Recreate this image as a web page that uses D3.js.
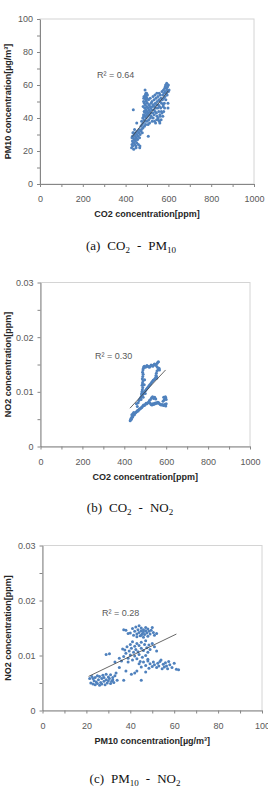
<!DOCTYPE html>
<html><head><meta charset="utf-8">
<script src="https://cdn.jsdelivr.net/npm/d3@7"></script>
<style>body{margin:0;background:#fff}svg{display:block}</style>
</head><body>
<script>
// ---------- DATA ----------
// (a) CO2 [ppm] vs PM10 [ug/m3]
const pointsA = [
[428,22],[430,24],[432,26],[433,23],[435,25],[436,28],[438,21],[440,27],[441,30],[443,24],[444,29],[446,26],[447,31],[449,22],[450,28],[452,25],[453,30],[455,32],[456,27],[458,29],[460,24],[461,31],[463,33],[465,28],[466,22],[468,30],[470,32],[432,29],[437,31],[442,33],[430,28],[434,31],[445,27],[448,23],[439,25],
[472,35],[474,33],[475,38],[477,36],[478,31],[480,40],[481,34],[483,37],[484,42],[486,39],[487,44],[488,35],[489,46],[490,41],[491,38],[492,48],[493,43],[494,36],[495,45],[496,40],[497,50],[498,42],[499,47],[500,38],[501,44],[502,49],[503,41],[504,46],[505,36],[506,43],[507,51],[508,39],[509,45],[510,48],[511,42],[512,37],[513,47],[514,44],[515,52],[516,40],[517,46],[518,43],[519,49],[520,41],
[522,45],[523,50],[524,38],[525,47],[527,43],[528,53],[529,40],[530,48],[532,45],[533,51],[534,42],[535,47],[537,54],[538,44],[539,49],[540,37],[541,46],[542,52],[544,43],[545,48],[546,55],[547,41],[548,50],[550,46],[551,53],[552,39],[553,48],[555,44],[556,51],[557,55],[558,47],[560,42],[561,50],[562,54],[564,46],[565,52],[567,44],[568,49],[570,56],
[572,51],[574,54],[575,47],[577,57],[578,52],[580,55],[581,49],[583,58],[584,53],[586,56],[587,60],[588,51],[590,55],[591,58],[592,61],[594,54],[595,57],[596,59],[598,46],[598,49],[600,56],[600,60],[585,59],[603,57],
[436,45],[491,57],[506,29],[452,37],[467,23],[495,55],[485,52],
[482,47],[484,50],[486,53],[488,49],[490,52],[492,54],[494,51],[496,53],[498,55],[500,52],[502,54],[488,44],[492,46],[485,41],[552,40],[558,38],[562,41],[566,39],[570,43],[574,41],[578,44],[582,46],[576,48],[560,37],[545,39],[535,38]
];
const trendA = [[431,28.7],[600,56.5]];

// (b) CO2 [ppm] vs NO2 [ppm]
const pointsB = [
[428,0.0047],[430,0.0049],[432,0.0051],[434,0.0050],[436,0.0053],[438,0.0055],[440,0.0054],[443,0.0057],[446,0.0059],[448,0.0058],[451,0.0061],[454,0.0062],[457,0.0063],[460,0.0064],[463,0.0066],[466,0.0065],[469,0.0067],[472,0.0068],[475,0.0069],[478,0.0070],[481,0.0071],[484,0.0072],[436,0.0058],[441,0.0060],[445,0.0062],
[488,0.0074],[492,0.0076],[496,0.0075],[500,0.0077],[504,0.0079],[508,0.0078],[512,0.0080],[516,0.0081],[520,0.0080],[524,0.0079],[528,0.0077],[532,0.0076],[536,0.0078],[540,0.0077],[544,0.0079],[548,0.0078],[552,0.0080],[556,0.0079],[560,0.0081],[564,0.0080],[568,0.0078],[572,0.0077],[576,0.0076],[580,0.0077],[584,0.0076],[588,0.0075],[592,0.0077],[596,0.0076],[600,0.0078],[598,0.0074],
[590,0.0085],[594,0.0088],[596,0.0091],[598,0.0089],[600,0.0086],[588,0.0090],[585,0.0083],
[525,0.0086],[530,0.0089],[535,0.0091],[540,0.0088],[545,0.0090],[550,0.0087],[520,0.0084],
[466,0.0080],[470,0.0084],[474,0.0087],[478,0.0089],[482,0.0092],[486,0.0094],[490,0.0096],[494,0.0099],[498,0.0101],[502,0.0103],[506,0.0105],[510,0.0107],[514,0.0109],[518,0.0111],[522,0.0113],[526,0.0115],[530,0.0117],[534,0.0119],[538,0.0121],[542,0.0122],[546,0.0124],[550,0.0126],[554,0.0125],[480,0.0086],[490,0.0090],[500,0.0097],[458,0.0078],[462,0.0073],
[484,0.0100],[486,0.0104],[488,0.0108],[485,0.0112],[487,0.0116],[489,0.0120],[486,0.0124],[488,0.0128],[490,0.0132],[487,0.0136],[489,0.0140],[491,0.0143],[493,0.0146],[482,0.0096],[495,0.0113],[497,0.0122],
[496,0.0147],[500,0.0145],[504,0.0146],[508,0.0148],[512,0.0147],[516,0.0146],[520,0.0145],[524,0.0147],[528,0.0149],[532,0.0148],[536,0.0147],[540,0.0149],[544,0.0151],[548,0.0150],[552,0.0148],[556,0.0152],[560,0.0154],[563,0.0155],[558,0.0145],[562,0.0141],[566,0.0143],[568,0.0140],
[556,0.0138],[553,0.0134],[551,0.0130],[554,0.0128]
];
const trendB = [[427,0.0070],[597,0.0140]];

// (c) PM10 [ug/m3] vs NO2 [ppm]
const pointsC = [
[21.5,0.0058],[22,0.0050],[22.5,0.0062],[23,0.0048],[23.5,0.0054],[24,0.0047],[24,0.0060],[24.5,0.0052],[25,0.0049],[25.5,0.0056],[26,0.0046],[26,0.0062],[26.5,0.0051],[27,0.0058],[27,0.0048],[27.5,0.0064],[28,0.0053],[28,0.0060],[28.5,0.0047],[29,0.0056],[29,0.0066],[29.5,0.0050],[30,0.0061],[30,0.0054],[30.5,0.0058],[31,0.0049],[31,0.0065],[31.5,0.0053],[32,0.0060],[32,0.0056],[32.5,0.0051],[33,0.0063],[23,0.0058],[25,0.0063],[33.5,0.0068],[34,0.0055],
[29,0.0102],[30.5,0.0103],[33,0.0088],
[36,0.0090],[37,0.0098],[37.5,0.0110],[38,0.0104],[38.5,0.0116],[39,0.0095],[39.5,0.0108],[40,0.0120],[40,0.0101],[40.5,0.0113],[41,0.0092],[41,0.0125],[41.5,0.0106],[42,0.0117],[42,0.0099],[42.5,0.0111],[43,0.0122],[43,0.0094],[43.5,0.0107],[44,0.0118],[44,0.0102],[44.5,0.0089],[45,0.0113],[45,0.0124],[45.5,0.0097],[46,0.0109],[46.5,0.0120],[47,0.0100],[47,0.0127],[47.5,0.0114],[48,0.0093],[48,0.0106],[48.5,0.0119],[49,0.0111],[39,0.0088],[36.5,0.0112],[35,0.0095],[50,0.0122],[51,0.0116],[52,0.0108],
[37,0.0147],[38,0.0146],[40,0.0141],[41,0.0149],[41.5,0.0137],[42,0.0144],[42.5,0.0152],[43,0.0139],[43.5,0.0147],[44,0.0142],[44,0.0154],[44.5,0.0136],[45,0.0145],[45,0.0150],[45.5,0.0140],[46,0.0147],[46,0.0143],[46.5,0.0138],[47,0.0151],[47,0.0145],[47.5,0.0141],[48,0.0148],[48,0.0135],[48.5,0.0144],[49,0.0139],[49.5,0.0146],[50,0.0151],[50.5,0.0142],[51,0.0137],[52,0.0140],[43,0.0134],[45,0.0137],[46,0.0133],[39,0.0140],
[44,0.0085],[45,0.0079],[46,0.0088],[47,0.0082],[48,0.0090],[48.5,0.0077],[49,0.0085],[50,0.0080],[50.5,0.0088],[51,0.0083],[52,0.0078],[52.5,0.0086],[53,0.0081],[54,0.0092],[54.5,0.0076],[55,0.0084],[55.5,0.0079],[56,0.0087],[56.5,0.0081],[57,0.0076],[58,0.0083],[59,0.0078],[60,0.0086],[61,0.0075],[62,0.0074],[53.5,0.0089],[57.5,0.0089],
[37,0.0055],[40.5,0.0066],[42,0.0068],[45,0.0055],[43,0.0072],[38,0.0072],[47,0.0070],[35,0.0078]
];
const trendC = [[21,0.0062],[61,0.0139]];

// ticks
const co2Ticks = [0,100,200,300,400,500,600,700,800,900,1000];
const co2TickLabels = ["0","","200","","400","","600","","800","","1000"];
const pmYTicks = [0,10,20,30,40,50,60,70,80,90,100];
const pmYTickLabels = ["0","","20","","40","","60","","80","","100"];
const no2Ticks = [0,0.005,0.01,0.015,0.02,0.025,0.03];
const no2TickLabels = ["0","","0.01","","0.02","","0.03"];
const pmXTicks = [0,10,20,30,40,50,60,70,80,90,100];
const pmXTickLabels = ["0","","20","","40","","60","","80","","100"];

const r2Labels = ["R² = 0.64","R² = 0.30","R² = 0.28"];
const xTitles = ["CO2 concentration[ppm]","CO2 concentration[ppm]","PM10 concentration[µg/m³]"];
const yTitles = ["PM10 concentration[µg/m³]","NO2 concentration[ppm]","NO2 concentration[ppm]"];
const captions = [["(a)","CO","2","-","PM","10"],["(b)","CO","2","-","NO","2"],["(c)","PM","10","-","NO","2"]];

// ---------- DRAW ----------
const W = 268, H = 793;
const svg = d3.select("body").append("svg").attr("width", W).attr("height", H);

const panels = [
  {pts: pointsA, trend: trendA, xd:[0,1000], yd:[0,100], xt:co2Ticks, xl:co2TickLabels, yt:pmYTicks, yl:pmYTickLabels,
   L:40, R:254, T:19, B:184, r2x:97, r2y:78, capX:131, capY:250},
  {pts: pointsB, trend: trendB, xd:[0,1000], yd:[0,0.03], xt:co2Ticks, xl:co2TickLabels, yt:no2Ticks, yl:no2TickLabels,
   L:40.5, R:250, T:282.5, B:446.5, r2x:95, r2y:359, capX:130, capY:512},
  {pts: pointsC, trend: trendC, xd:[0,100], yd:[0,0.03], xt:pmXTicks, xl:pmXTickLabels, yt:no2Ticks, yl:no2TickLabels,
   L:42.5, R:262, T:545.5, B:710.5, r2x:102, r2y:616, capX:135, capY:783}
];

const tickFont = "'Liberation Sans', Arial, sans-serif";
panels.forEach((p, i) => {
  const g = svg.append("g");
  const x = d3.scaleLinear().domain(p.xd).range([p.L, p.R]);
  const y = d3.scaleLinear().domain(p.yd).range([p.B, p.T]);

  g.append("rect").attr("x", p.L).attr("y", p.T).attr("width", p.R - p.L).attr("height", p.B - p.T)
    .attr("fill", "none").attr("stroke", "#d4d4d4").attr("stroke-width", 1);

  const xa = d3.axisBottom(x).tickValues(p.xt).tickFormat((d, k) => p.xl[k]).tickSizeInner(3).tickSizeOuter(0).tickPadding(9);
  const gx = g.append("g").attr("transform", `translate(0,${p.B})`).call(xa);
  const ya = d3.axisLeft(y).tickValues(p.yt).tickFormat((d, k) => p.yl[k]).tickSizeInner(3).tickSizeOuter(0).tickPadding(4);
  const gy = g.append("g").attr("transform", `translate(${p.L},0)`).call(ya);
  [gx, gy].forEach(a => {
    a.select(".domain").attr("stroke", "#868686");
    a.selectAll(".tick line").attr("stroke", "#868686");
    a.selectAll(".tick text").attr("fill", "#595959").style("font-family", tickFont).style("font-size", "9px");
  });

  g.append("g").selectAll("circle").data(p.pts).join("circle")
    .attr("cx", d => x(d[0])).attr("cy", d => y(d[1])).attr("r", 1.5)
    .attr("fill", "#4f81bd");

  g.append("line").attr("x1", x(p.trend[0][0])).attr("y1", y(p.trend[0][1]))
    .attr("x2", x(p.trend[1][0])).attr("y2", y(p.trend[1][1]))
    .attr("stroke", "#404040").attr("stroke-width", 0.8);

  g.append("text").attr("x", p.r2x).attr("y", p.r2y).text(r2Labels[i])
    .attr("fill", "#595959").style("font-family", tickFont).style("font-size", "9px");

  g.append("text").attr("x", (p.L + p.R) / 2).attr("y", p.B + 33).attr("text-anchor", "middle")
    .text(xTitles[i]).attr("fill", "#262626").style("font-family", tickFont).style("font-size", "9px").style("font-weight", "bold");

  g.append("text").attr("transform", `translate(11,${(p.T + p.B) / 2}) rotate(-90)`).attr("text-anchor", "middle")
    .text(yTitles[i]).attr("fill", "#262626").style("font-family", tickFont).style("font-size", "9px").style("font-weight", "bold");

  const c = captions[i];
  const t = g.append("text").attr("x", p.capX).attr("y", p.capY).attr("text-anchor", "middle")
    .style("font-family", "'Liberation Serif', 'Times New Roman', serif").style("font-size", "13px").attr("fill", "#111");
  t.append("tspan").text(c[0]);
  t.append("tspan").attr("dx", 7).text(c[1]);
  t.append("tspan").attr("dy", 3).style("font-size", "9px").text(c[2]);
  t.append("tspan").attr("dy", -3).attr("dx", 7).text(c[3]);
  t.append("tspan").attr("dx", 7).text(c[4]);
  t.append("tspan").attr("dy", 3).style("font-size", "9px").text(c[5]);
});
</script>
</body></html>
